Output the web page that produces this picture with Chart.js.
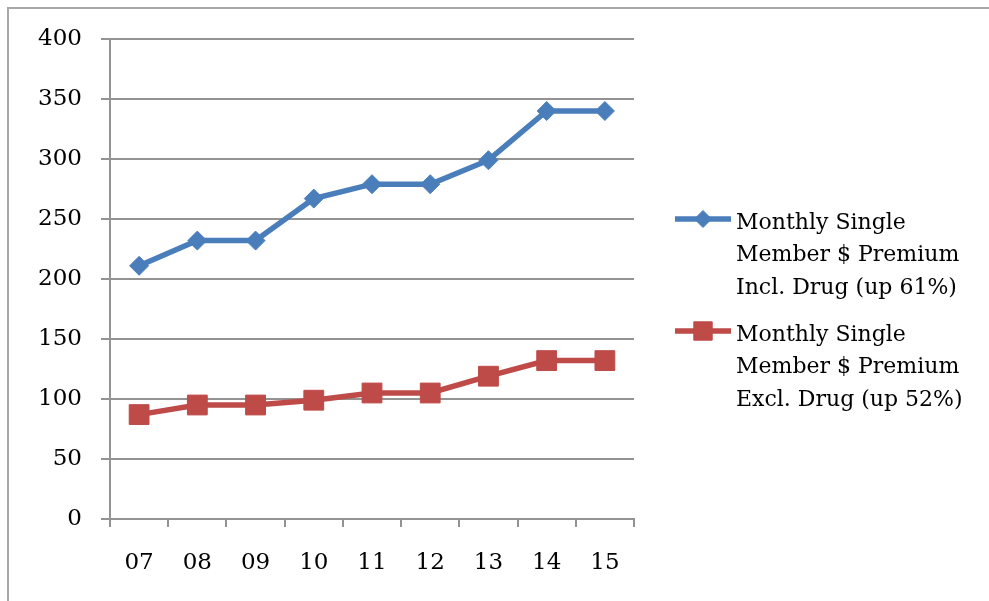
<!DOCTYPE html>
<html>
<head>
<meta charset="utf-8">
<script src="https://cdn.jsdelivr.net/npm/chart.js@4/dist/chart.umd.min.js"></script>
<style>
  html, body { margin: 0; padding: 0; background: #fff; }
  #wrap { position: relative; width: 989px; height: 601px; }
</style>
</head>
<body>
<div id="wrap"><canvas id="c" width="989" height="601"></canvas></div>
<script>
const categories = ['07', '08', '09', '10', '11', '12', '13', '14', '15'];
const premiumInclDrug = [211, 232, 232, 267, 279, 279, 299, 340, 340];
const premiumExclDrug = [87, 95, 95, 99, 105, 105, 119, 132, 132];
const legendInclDrug = ['Monthly Single', 'Member $ Premium', 'Incl. Drug (up 61%)'];
const legendExclDrug = ['Monthly Single', 'Member $ Premium', 'Excl. Drug (up 52%)'];
const yMin = 0, yMax = 400, yStep = 50;

const BLUE = '#4a7ebb';
const RED = '#be4b48';
const GRID = '#939393';
const FONT = '"DejaVu Serif", serif';

const framePlugin = {
  id: 'frame',
  beforeDraw(chart) {
    const ctx = chart.ctx;
    ctx.save();
    ctx.strokeStyle = '#a8a8a8';
    ctx.lineWidth = 2;
    ctx.beginPath();
    ctx.moveTo(8, chart.height + 2);
    ctx.lineTo(8, 8);
    ctx.lineTo(chart.width + 2, 8);
    ctx.stroke();
    ctx.restore();
  }
};

const sideLegend = {
  id: 'sideLegend',
  afterDraw(chart) {
    const ctx = chart.ctx;
    const area = chart.chartArea;
    const lineX0 = area.right + 41;
    const lineX1 = area.right + 97;
    const textX = area.right + 102;
    const firstY = [223, 335];
    const lineGap = 32.5;
    ctx.save();
    chart.data.datasets.forEach((ds, i) => {
      const y0 = firstY[i];
      const my = y0 - 4;
      ctx.strokeStyle = ds.borderColor;
      ctx.lineWidth = 5.5;
      ctx.lineCap = 'butt';
      ctx.beginPath();
      ctx.moveTo(lineX0, my);
      ctx.lineTo(lineX1, my);
      ctx.stroke();
      ctx.fillStyle = ds.borderColor;
      ctx.lineWidth = 1;
      Chart.helpers.drawPoint(ctx, {
        pointStyle: ds.pointStyle,
        radius: ds.legendRadius,
        borderWidth: 1,
        rotation: 0
      }, (lineX0 + lineX1) / 2, my);
      ctx.fillStyle = '#000';
      ctx.font = '22px ' + FONT;
      ctx.textAlign = 'left';
      ctx.textBaseline = 'middle';
      ds.legendLines.forEach((t, k) => {
        ctx.fillText(t, textX, y0 + k * lineGap);
      });
    });
    ctx.restore();
  }
};

new Chart(document.getElementById('c'), {
  type: 'line',
  data: {
    labels: categories,
    datasets: [
      {
        label: legendInclDrug.join(' '),
        legendLines: legendInclDrug,
        legendRadius: 8.5,
        data: premiumInclDrug,
        borderColor: BLUE,
        backgroundColor: BLUE,
        pointBackgroundColor: BLUE,
        pointBorderColor: BLUE,
        borderWidth: 5.5,
        pointStyle: 'rectRot',
        pointRadius: 9.5,
        pointBorderWidth: 1,
        tension: 0
      },
      {
        label: legendExclDrug.join(' '),
        legendLines: legendExclDrug,
        legendRadius: 13,
        data: premiumExclDrug,
        borderColor: RED,
        backgroundColor: RED,
        pointBackgroundColor: RED,
        pointBorderColor: RED,
        borderWidth: 5.5,
        pointStyle: 'rect',
        pointRadius: 14,
        pointBorderWidth: 1,
        tension: 0
      }
    ]
  },
  options: {
    responsive: false,
    animation: false,
    devicePixelRatio: 1,
    layout: { padding: { top: 39, right: 355, bottom: 0, left: 0 } },
    plugins: {
      legend: { display: false },
      tooltip: { enabled: false }
    },
    scales: {
      x: {
        offset: true,
        afterFit(s) { s.height = 82; },
        grid: {
          offset: true,
          drawOnChartArea: false,
          color: GRID,
          tickColor: GRID,
          tickLength: 8,
          lineWidth: 2
        },
        border: { color: GRID, width: 2 },
        ticks: {
          color: '#000',
          padding: 22,
          maxRotation: 0,
          font: { family: FONT, size: 23 }
        }
      },
      y: {
        min: yMin,
        max: yMax,
        afterFit(s) { s.width = 110; },
        grid: {
          color: GRID,
          tickColor: GRID,
          tickLength: 9,
          lineWidth: 2
        },
        border: { color: GRID, width: 2 },
        ticks: {
          stepSize: yStep,
          color: '#000',
          padding: 19,
          font: { family: FONT, size: 23 }
        }
      }
    }
  },
  plugins: [framePlugin, sideLegend]
});
</script>
</body>
</html>
